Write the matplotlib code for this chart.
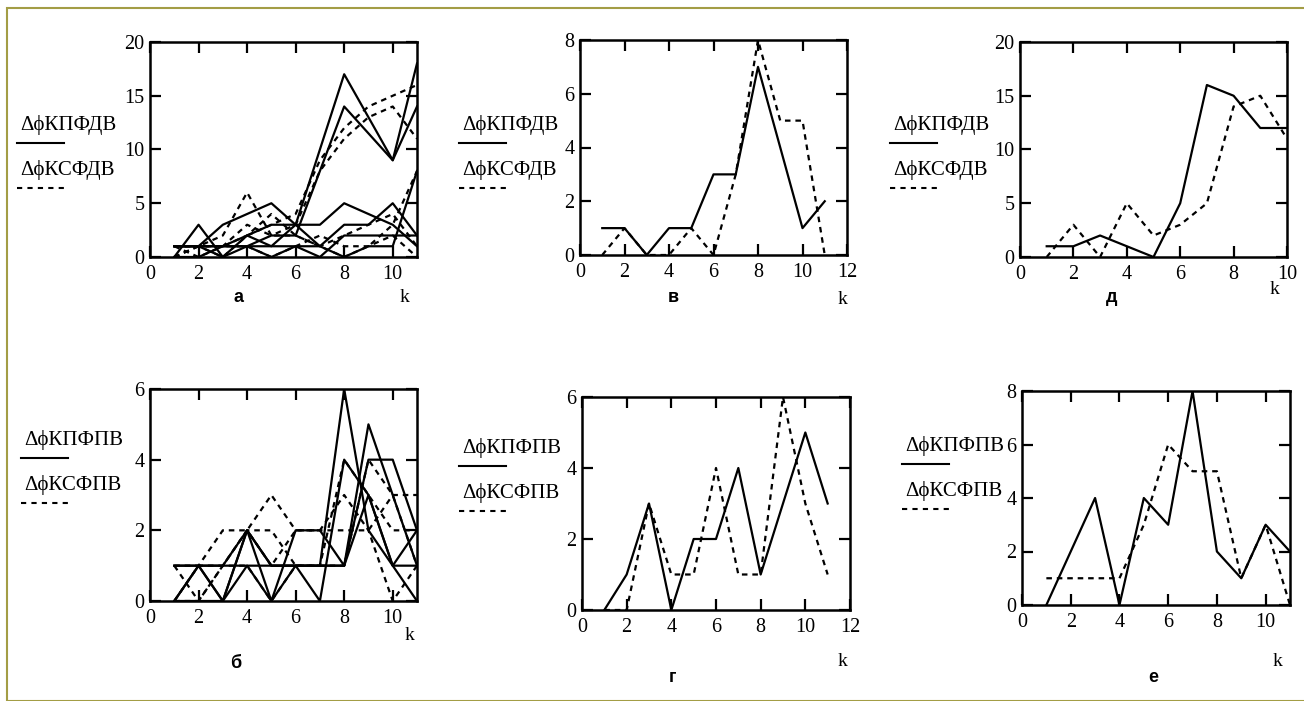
import numpy as np
import matplotlib
matplotlib.use("Agg")
from matplotlib import pyplot as plt
from matplotlib.patches import Rectangle

W, H = 1304, 701

# data (k = 1..11)
k = [1, 2, 3, 4, 5, 6, 7, 8, 9, 10, 11]
k10 = [1, 2, 3, 4, 5, 6, 7, 8, 9, 10]

# panel a: several runs, solid = КП, dashed = КС
a_solid = [
    [1, 1, 1, 1, 1, 3, 10, 17, 13, 9, 18],
    [1, 1, 0, 1, 2, 2, 8, 14, 11.5, 9, 14],
    [0, 3, 0, 2, 3, 3, 3, 5, 4, 3, 1],
    [1, 1, 3, 4, 5, 3, 1, 3, 3, 5, 2],
    [0, 0, 1, 2, 1, 1, 0, 2, 2, 2, 2],
    [1, 1, 1, 1, 0, 1, 1, 0, 1, 1, 8],
]
a_dashed = [
    [1, 1, 0, 2, 3, 4, 9, 12, 14, 15, 16],
    [0, 1, 2, 6, 2, 3, 8, 11, 13, 14, 11],
    [1, 0, 1, 3, 2, 2, 1, 0, 1, 3, 8],
    [0, 1, 1, 2, 4, 2, 1, 2, 3, 4, 1],
    [1, 1, 1, 1, 0, 1, 2, 1, 1, 2, 0],
]

# panel б
b_solid = [
    [1, 1, 1, 2, 1, 1, 1, 6, 2, 1, 0],
    [0, 1, 0, 2, 0, 2, 2, 1, 5, 3, 1],
    [0, 1, 0, 1, 0, 1, 0, 4, 3, 1, 2],
    [1, 1, 1, 1, 1, 1, 1, 1, 4, 4, 2],
    [0, 0, 0, 2, 1, 1, 1, 1, 3, 1, 1],
]
b_dashed = [
    [1, 1, 2, 2, 3, 2, 2, 2, 2, 3, 3],
    [1, 0, 1, 2, 2, 1, 1, 1, 4, 3, 1],
    [0, 0, 1, 1, 0, 1, 1, 4, 3, 2, 2],
    [0, 1, 1, 2, 1, 2, 2, 3, 2, 0, 1],
]

# panel в
v_solid = [1, 1, 0, 1, 1, 3, 3, 7, 4, 1, 2]
v_dashed = [0, 1, 0, 0, 1, 0, 3, 8, 5, 5, 0]

# panel г
g_solid = [0, 1, 3, 0, 2, 2, 4, 1, 3, 5, 3]
g_dashed = [0, 0, 3, 1, 1, 4, 1, 1, 6, 3, 1]

# panel д (k = 1..10)
d_solid = [1, 1, 2, 1, 0, 5, 16, 15, 12, 12]
d_dashed = [0, 3, 0, 5, 2, 3, 5, 14, 15, 11]

# panel е
e_solid = [0, 2, 4, 0, 4, 3, 8, 2, 1, 3, 2]
e_dashed = [1, 1, 1, 1, 3, 6, 5, 5, 1, 3, 0]

lab_top = ["\u0394\u03d5\u041a\u041f\u0424\u0414\u0412", "\u0394\u03d5\u041a\u0421\u0424\u0414\u0412"]
lab_bot = ["\u0394\u03d5\u041a\u041f\u0424\u041f\u0412", "\u0394\u03d5\u041a\u0421\u0424\u041f\u0412"]

serif = "Liberation Serif"
sans = "Liberation Sans"

fig = plt.figure(figsize=(W / 100, H / 100), dpi=100)
fig.patches.append(Rectangle((7 / W, 0), 1, 1 - 8 / H, transform=fig.transFigure,
                             fill=False, edgecolor="#a39d45", lw=1.5))


def px_axes(l, t, r, b):
    return fig.add_axes([l / W, 1 - b / H, (r - l) / W, (b - t) / H])


def ftext(x, y, s, **kw):
    fig.text(x / W, 1 - y / H, s, **kw)


def style(ax, xmax, ymax, xstep, ystep):
    ax.set_xlim(0, xmax)
    ax.set_ylim(0, ymax)
    ax.set_xticks(np.arange(0, xmax + 0.01, xstep))
    ax.set_yticks(np.arange(0, ymax + 0.01, ystep))
    ax.tick_params(direction="in", length=8, width=1.6, top=True, right=True,
                   labelsize=14.5)
    ax.tick_params(axis="x", pad=6)
    ax.tick_params(axis="y", pad=4)
    for lab in ax.get_xticklabels() + ax.get_yticklabels():
        lab.set_fontfamily(serif)
    for sp in ax.spines.values():
        sp.set_linewidth(1.8)


def legend_text(x, y, labels):
    ftext(x, y, labels[0], fontsize=15, family=serif, va="center")
    fig.add_artist(plt.Line2D([(x - 3) / W, (x + 44) / W], [1 - (y + 18) / H] * 2,
                              color="k", lw=1.5, transform=fig.transFigure))
    ftext(x, y + 45, labels[1], fontsize=15, family=serif, va="center")
    fig.add_artist(plt.Line2D([(x - 3) / W, (x + 44) / W], [1 - (y + 63) / H] * 2,
                              color="k", lw=1.5, ls=(0, (2.5, 2.5)), transform=fig.transFigure))


sol = dict(color="k", lw=1.6)
das = dict(color="k", lw=1.6, ls=(0, (2.5, 2.2)))

# а
ax = px_axes(150, 42, 417, 257)
for s in a_solid:
    ax.plot(k, s, **sol)
for s in a_dashed:
    ax.plot(k, s, **das)
style(ax, 11, 20, 2, 5)
legend_text(20, 125, lab_top)
ftext(405, 298, "k", fontsize=14, family=serif, ha="center", va="center")
ftext(238, 297, "\u0430", fontsize=13, family=sans, weight="bold", ha="center", va="center")

# в
ax = px_axes(580, 40, 847, 255)
ax.plot(k, v_solid, **sol)
ax.plot(k, v_dashed, **das)
style(ax, 12, 8, 2, 2)
legend_text(462, 125, lab_top)
ftext(843, 300, "k", fontsize=14, family=serif, ha="center", va="center")
ftext(673, 297, "\u0432", fontsize=13, family=sans, weight="bold", ha="center", va="center")

# д
ax = px_axes(1020, 42, 1287, 257)
ax.plot(k10, d_solid, **sol)
ax.plot(k10, d_dashed, **das)
style(ax, 10, 20, 2, 5)
legend_text(893, 125, lab_top)
ftext(1275, 290, "k", fontsize=14, family=serif, ha="center", va="center")
ftext(1112, 298, "\u0434", fontsize=13, family=sans, weight="bold", ha="center", va="center")

# б
ax = px_axes(150, 389, 417, 601)
for s in b_solid:
    ax.plot(k, s, **sol)
for s in b_dashed:
    ax.plot(k, s, **das)
style(ax, 11, 6, 2, 2)
legend_text(24, 440, lab_bot)
ftext(410, 636, "k", fontsize=14, family=serif, ha="center", va="center")
ftext(236, 664, "\u0431", fontsize=13, family=sans, weight="bold", ha="center", va="center")

# г
ax = px_axes(582, 397, 850, 610)
ax.plot(k, g_solid, **sol)
ax.plot(k, g_dashed, **das)
style(ax, 12, 6, 2, 2)
legend_text(462, 448, lab_bot)
ftext(843, 662, "k", fontsize=14, family=serif, ha="center", va="center")
ftext(673, 678, "\u0433", fontsize=13, family=sans, weight="bold", ha="center", va="center")

# е
ax = px_axes(1022, 391, 1290, 605)
ax.plot(k, e_solid, **sol)
ax.plot(k, e_dashed, **das)
style(ax, 11, 8, 2, 2)
legend_text(905, 446, lab_bot)
ftext(1278, 662, "k", fontsize=14, family=serif, ha="center", va="center")
ftext(1153, 678, "\u0435", fontsize=13, family=sans, weight="bold", ha="center", va="center")

plt.savefig("out.png", dpi=100)
